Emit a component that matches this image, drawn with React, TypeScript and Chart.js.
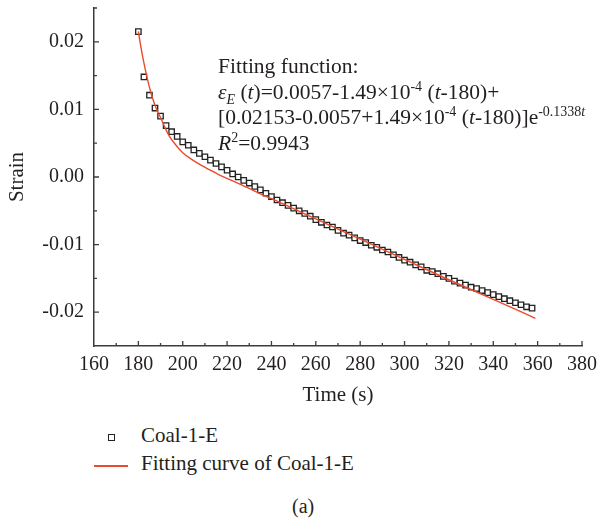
import React, { useEffect, useRef } from "react";
import { Chart, registerables } from "chart.js";

Chart.register(...registerables);

// Measured series: Coal-1-E (time in s, strain)
const times = [
  180, 182.5, 185, 187.5, 190, 192.5, 195, 197.5, 200, 202.5,
  205, 207.5, 210, 212.5, 215, 217.5, 220, 222.5, 225, 227.5,
  230, 232.5, 235, 237.5, 240, 242.5, 245, 247.5, 250, 252.5,
  255, 257.5, 260, 262.5, 265, 267.5, 270, 272.5, 275, 277.5,
  280, 282.5, 285, 287.5, 290, 292.5, 295, 297.5, 300, 302.5,
  305, 307.5, 310, 312.5, 315, 317.5, 320, 322.5, 325, 327.5,
  330, 332.5, 335, 337.5, 340, 342.5, 345, 347.5, 350, 352.5,
  355, 357.5,
];
const strains = [
  0.0215, 0.0148, 0.0121, 0.0102, 0.009, 0.0076, 0.0067, 0.006, 0.0052, 0.0047,
  0.004, 0.0035, 0.003, 0.0025, 0.002, 0.0015, 0.001, 0.00045, 0.0, -0.0005,
  -0.0009, -0.0014, -0.0019, -0.0024, -0.0029, -0.0034, -0.0038, -0.0042, -0.0046, -0.005,
  -0.0054, -0.0058, -0.0063, -0.0067, -0.0071, -0.0074, -0.0079, -0.0083, -0.0086, -0.009,
  -0.0094, -0.0097, -0.0101, -0.0104, -0.0108, -0.0111, -0.0115, -0.0119, -0.0123, -0.0126,
  -0.013, -0.0133, -0.0138, -0.014, -0.0143, -0.0147, -0.015, -0.0154, -0.0157, -0.016,
  -0.0163, -0.0165, -0.0168, -0.0171, -0.0174, -0.0177, -0.018, -0.0183, -0.0186, -0.0189,
  -0.0192, -0.0194,
];

// Fitting curve
const fitTimes = [
  180, 181, 182, 183, 184, 186, 188, 190, 192, 194, 196, 198, 200, 204, 208,
  212, 216, 220, 226, 230, 235, 240, 260, 280, 300, 320, 340, 359,
];
const fitStrains = [
  0.02153, 0.0195, 0.0177, 0.0161, 0.0146, 0.0121, 0.0102, 0.0088, 0.0073,
  0.006, 0.0051, 0.0043, 0.0036, 0.0026, 0.0018, 0.0011, 0.0004, -0.0002,
  -0.0011, -0.0017, -0.0025, -0.0032, -0.0062, -0.0092, -0.0122, -0.0152,
  -0.0181, -0.0209,
];

const X_MIN = 160;
const X_MAX = 380;
const X_STEP = 10;
const Y_MIN = -0.025;
const Y_MAX = 0.025;
const Y_STEP = 0.005;

const SERIES_LABEL = "Coal-1-E";
const FIT_LABEL = "Fitting curve of Coal-1-E";
const X_TITLE = "Time (s)";
const Y_TITLE = "Strain";

const FONT = "'Liberation Serif', 'DejaVu Serif', serif";
const TEXT = "#231f20";
const AXIS = "#3c3c3c";
const RED = "#ec4a2c";

const innerTicks = {
  id: "innerTicks",
  afterDraw(chart: any) {
    const { ctx, chartArea, scales } = chart;
    const xs = scales.x;
    const ys = scales.y;
    ctx.save();
    ctx.strokeStyle = AXIS;
    ctx.lineWidth = 1.3;
    ctx.beginPath();
    xs.ticks.forEach((t: any) => {
      const px = xs.getPixelForValue(t.value);
      if (Math.abs(px - chartArea.left) < 1) return;
      const len = t.label ? 5 : 3;
      ctx.moveTo(px, chartArea.bottom);
      ctx.lineTo(px, chartArea.bottom - len);
    });
    ys.ticks.forEach((t: any) => {
      const py = ys.getPixelForValue(t.value);
      if (Math.abs(py - chartArea.bottom) < 1) return;
      const len = t.label ? 5 : 3;
      ctx.moveTo(chartArea.left, py);
      ctx.lineTo(chartArea.left + len, py);
    });
    ctx.stroke();
    ctx.restore();
  },
};

export default function App() {
  const ref = useRef<HTMLCanvasElement | null>(null);

  useEffect(() => {
    if (!ref.current) return;
    const chart = new Chart(ref.current, {
      type: "line",
      data: {
        datasets: [
          {
            label: FIT_LABEL,
            data: fitTimes.map((x, i) => ({ x, y: fitStrains[i] })),
            borderColor: RED,
            borderWidth: 1.4,
            pointRadius: 0,
            cubicInterpolationMode: "monotone",
            fill: false,
            order: 0,
          },
          {
            label: SERIES_LABEL,
            data: times.map((x, i) => ({ x, y: strains[i] })),
            showLine: false,
            pointStyle: "rect",
            pointRadius: 3.8,
            pointBorderWidth: 1.3,
            pointBorderColor: "#222",
            pointBackgroundColor: "#ffffff",
            order: 1,
          },
        ],
      },
      options: {
        animation: false,
        responsive: false,
        devicePixelRatio: 1,
        layout: { padding: { top: 8, right: 15, left: 0, bottom: 0 } },
        plugins: {
          legend: { display: false },
          tooltip: { enabled: false },
        },
        scales: {
          x: {
            type: "linear",
            min: X_MIN,
            max: X_MAX,
            grid: { display: false, drawTicks: false },
            border: { display: true, color: AXIS, width: 1.5 },
            ticks: {
              stepSize: X_STEP,
              autoSkip: false,
              maxRotation: 0,
              padding: 7,
              color: TEXT,
              font: { family: FONT, size: 20 },
              callback: (v: any) => (Math.round(v) % 20 === 0 ? String(Math.round(v)) : ""),
            },
            title: {
              display: true,
              text: X_TITLE,
              color: TEXT,
              font: { family: FONT, size: 21 },
              padding: { top: 0, bottom: 2 },
            },
            afterFit: (s: any) => {
              s.height = 64;
              s.paddingLeft = 0;
              s.paddingRight = 0;
            },
          },
          y: {
            type: "linear",
            min: Y_MIN,
            max: Y_MAX,
            grid: { display: false, drawTicks: false },
            border: { display: true, color: AXIS, width: 1.5 },
            ticks: {
              stepSize: Y_STEP,
              autoSkip: false,
              padding: 10,
              color: TEXT,
              font: { family: FONT, size: 20 },
              callback: (v: any) => {
                const k = Math.round(v * 1000);
                if (k % 10 !== 0) return "";
                if (k === 0) return "0.00";
                return (k / 1000).toFixed(2);
              },
            },
            title: {
              display: true,
              text: Y_TITLE,
              color: TEXT,
              font: { family: FONT, size: 21 },
              padding: { top: 5, bottom: 0 },
            },
            afterFit: (s: any) => {
              s.width = 94;
              s.paddingTop = 0;
              s.paddingBottom = 0;
            },
          },
        },
      },
      plugins: [innerTicks],
    } as any);
    return () => chart.destroy();
  }, []);

  const sup: React.CSSProperties = { fontSize: 14, verticalAlign: "8px", lineHeight: 0 };
  const sub: React.CSSProperties = { fontSize: 14, verticalAlign: "-5px", lineHeight: 0 };

  return (
    <div
      style={{
        position: "absolute",
        left: 0,
        top: 0,
        width: 597,
        height: 519,
        fontFamily: FONT,
        color: TEXT,
      }}
    >
      <canvas ref={ref} width={597} height={410} style={{ position: "absolute", left: 0, top: 0, display: "block" }} />
      <div
        style={{
          position: "absolute",
          left: 218,
          top: 54,
          fontSize: 21.5,
          lineHeight: "25.5px",
          whiteSpace: "nowrap",
        }}
      >
        <div>Fitting function:</div>
        <div>
          <i>ε</i>
          <sub style={sub}>
            <i>E</i>
          </sub>{" "}
          (<i>t</i>)=0.0057-1.49×10<sup style={sup}>-4</sup> (<i>t</i>-180)+
        </div>
        <div>
          [0.02153-0.0057+1.49×10<sup style={sup}>-4</sup> (<i>t</i>-180)]e
          <sup style={sup}>
            -0.1338<i>t</i>
          </sup>
        </div>
        <div>
          <i>R</i>
          <sup style={sup}>2</sup>=0.9943
        </div>
      </div>
      {/* Legend */}
      <div style={{ position: "absolute", left: 108, top: 434, width: 7, height: 7, border: "1.4px solid #222", boxSizing: "border-box" }} />
      <div style={{ position: "absolute", left: 141, top: 422, fontSize: 21, lineHeight: "26px", whiteSpace: "nowrap" }}>{SERIES_LABEL}</div>
      <div style={{ position: "absolute", left: 94, top: 465, width: 34, height: 1.5, background: RED }} />
      <div style={{ position: "absolute", left: 141, top: 450, fontSize: 21, lineHeight: "26px", whiteSpace: "nowrap" }}>{FIT_LABEL}</div>
      <div style={{ position: "absolute", left: 292, top: 494, fontSize: 20, lineHeight: "24px", whiteSpace: "nowrap" }}>(a)</div>
    </div>
  );
}
